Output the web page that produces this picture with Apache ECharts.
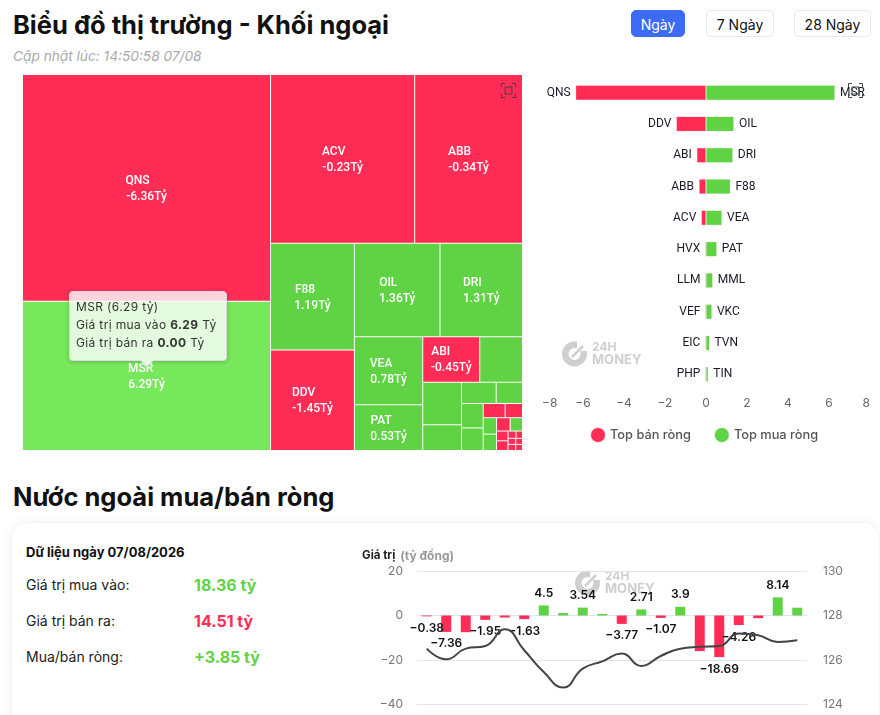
<!DOCTYPE html>
<html lang="vi">
<head>
<meta charset="utf-8">
<title>Khối ngoại</title>
<script src="https://cdn.jsdelivr.net/npm/echarts@6/dist/echarts.min.js"></script>
<style>
  html, body { margin: 0; padding: 0; background: #fff; overflow: hidden; width: 880px; height: 715px; font-family: Inter, sans-serif; color: #111; }
  .abs { position: absolute; white-space: nowrap; }
  h2 { margin: 0; font-size: 25.5px; font-weight: 700; line-height: 32px; }
  .updated { left: 13px; top: 48px; font-size: 13.7px; font-style: italic; color: #aaa; }
  .btn { top: 10px; height: 27px; line-height: 27px; text-align: center; font-size: 14px; border: 1px solid #e8e8e8; border-radius: 5px; box-sizing: border-box; }
  .btn.on { background: #3d6bf5; border-color: #3d6bf5; color: #fff; }
  .card { left: 12px; top: 523px; width: 867px; height: 260px; border-radius: 16px; box-shadow: 0 0 12px rgba(40, 60, 110, .09); background: #fff; }
  .row { left: 26px; font-size: 14px; color: #222; }
  .val { left: 194px; font-size: 16px; font-weight: 700; }
  .green { color: #5fd344; }
  .red { color: #ff2d55; }
  #treemap { position: absolute; left: 13px; top: 70px; width: 520px; height: 385px; }
  #topbars { position: absolute; left: 535px; top: 70px; width: 345px; height: 385px; }
  #netchart { position: absolute; left: 350px; top: 535px; width: 530px; height: 220px; }
</style>
</head>
<body>
<h2 class="abs" style="left:13px;top:9px">Biểu đồ thị trường - Khối ngoại</h2>
<div class="abs updated">Cập nhật lúc: 14:50:58 07/08</div>
<div class="abs btn on" style="left:631px;width:54px">Ngày</div>
<div class="abs btn" style="left:706px;width:68px">7 Ngày</div>
<div class="abs btn" style="left:794px;width:77px">28 Ngày</div>

<div id="treemap"></div>
<div id="topbars"></div>

<h2 class="abs" style="left:13px;top:481px">Nước ngoài mua/bán ròng</h2>
<div class="abs card"></div>
<div class="abs" style="left:26px;top:544px;font-size:13px;font-weight:700">Dữ liệu ngày 07/08/2026</div>
<div class="abs row" style="top:576px">Giá trị mua vào:</div>
<div class="abs val green" style="top:575px">18.36 tỷ</div>
<div class="abs row" style="top:612px">Giá trị bán ra:</div>
<div class="abs val red" style="top:611px">14.51 tỷ</div>
<div class="abs row" style="top:648px">Mua/bán ròng:</div>
<div class="abs val green" style="top:647px">+3.85 tỷ</div>
<div id="netchart"></div>

<script>
// màu chung
var RED = '#ff2d55';
var GREEN = '#5fd344';

// treemap: giá trị giao dịch (mua + bán) và mua/bán ròng
var treeNames = ['QNS', 'MSR', 'ACV', 'ABB', 'F88', 'DDV', 'OIL', 'DRI', 'VEA', 'PAT', 'ABI', 'MML', 'VKC', 'TVN', 'TIN', 'SGN', 'HAH', 'PVD', 'HVX', 'LLM', 'NTP', 'DPR', 'VEF', 'BSR', 'EIC', 'PHP', 'SIP', 'VGC', 'NBC', 'TNG', 'CMS', 'PDN'];
var treeTotal = [9.55, 6.29, 4.13, 3.09, 1.52, 1.43, 1.36, 1.31, 0.79, 0.53, 0.44, 0.33, 0.28, 0.17, 0.125, 0.095, 0.09, 0.083, 0.053, 0.042, 0.037, 0.037, 0.031, 0.028, 0.019, 0.019, 0.01, 0.008, 0.008, 0.008, 0.007, 0.007];
var treeNet = [-6.36, 6.29, -0.23, -0.34, 1.19, -1.45, 1.36, 1.31, 0.78, 0.53, -0.45, 0.33, 0.28, 0.17, 0.11, 0.1, 0.08, 0.08, -0.05, -0.04, 0.04, 0.04, -0.03, 0.03, -0.02, -0.02, -0.01, -0.01, -0.01, -0.01, -0.01, -0.01];
var treeLabelMin = 0.44;

// top mua/bán ròng
var sellNames = ['QNS', 'DDV', 'ABI', 'ABB', 'ACV', 'HVX', 'LLM', 'VEF', 'EIC', 'PHP'];
var sellValues = [-6.36, -1.45, -0.45, -0.34, -0.23, -0.03, -0.01, -0.01, -0.01, -0.01];
var buyNames = ['MSR', 'OIL', 'DRI', 'F88', 'VEA', 'PAT', 'MML', 'VKC', 'TVN', 'TIN'];
var buyValues = [6.29, 1.36, 1.31, 1.19, 0.78, 0.53, 0.33, 0.29, 0.17, 0.11];

// mua/bán ròng theo phiên và đường giá
var netValues = [-0.38, -7.36, -7.5, -1.95, -0.9, -1.63, 4.5, 1.1, 3.54, 0.7, -3.77, 2.71, -1.07, 3.9, -16, -18.69, -4.26, -1.2, 8.14, 3.5];
var netHiddenLabels = [2, 4, 7, 9, 14, 17, 19];
var priceValues = [126.51, 126.03, 126.51, 126.63, 127.38, 126.44, 125.46, 124.76, 125.61, 125.94, 126.29, 125.73, 126.18, 126.51, 126.59, 126.63, 127.19, 127.11, 126.81, 126.89];

var FULLSCREEN_ICON = 'path://M1 4V1H4M10 1H13V4M13 10V13H10M4 13H1V10M4 4H10V10H4Z';
var LABEL_FONT = '500 12px Roboto';

function minusSign(v) {
    return String(v).replace('-', '\u2212');
}

function fullscreenToolbox() {
    return {
        right: 0,
        top: -4,
        itemSize: 14,
        iconStyle: { color: 'none', borderColor: '#444', borderWidth: 1 },
        feature: {
            myFull: { show: true, title: '', icon: FULLSCREEN_ICON, onclick: function() {} }
        }
    };
}

// logo chìm 24H Money
function watermark(left, top) {
    return {
        type: 'group',
        left: left,
        top: top,
        silent: true,
        z: -1,
        children: [
            { type: 'ring', shape: { cx: 12.5, cy: 13, r: 12.5, r0: 6 }, style: { fill: '#cfcfcf' } },
            { type: 'rect', shape: { x: 15, y: 0, width: 11, height: 10 }, style: { fill: '#fff' } },
            { type: 'line', shape: { x1: 10, y1: 16, x2: 21, y2: 5 }, style: { stroke: '#cfcfcf', lineWidth: 2.5 } },
            { type: 'text', style: { x: 30, y: 0, text: '24H', fill: '#cfcfcf', font: 'bold 12px Inter' } },
            { type: 'text', style: { x: 30, y: 13, text: 'MONEY', fill: '#cfcfcf', font: 'bold 13px Inter' } }
        ]
    };
}

// hai dòng canh trái nhưng cả khối nằm giữa ô: bù dòng ngắn bằng khoảng trắng
var measureCtx = document.createElement('canvas').getContext('2d');
measureCtx.font = LABEL_FONT;
function treeLabel(i) {
    var netText = treeNet[i].toFixed(2) + 'Tỷ';
    var gap = measureCtx.measureText(netText).width - measureCtx.measureText(treeNames[i]).width;
    var pad = Math.max(0, Math.round(gap / measureCtx.measureText('\u00a0').width));
    return treeNames[i] + new Array(pad + 1).join('\u00a0') + '\n' + netText;
}

var treeChart = echarts.init(document.getElementById('treemap'));
treeChart.setOption({
    animation: false,
    toolbox: fullscreenToolbox(),
    tooltip: {
        show: true,
        transitionDuration: 0,
        backgroundColor: 'rgba(255,255,255,0.8)',
        borderColor: '#ddd',
        borderWidth: 1,
        padding: [6, 6],
        extraCssText: 'border-radius:4px;box-shadow:0 1px 4px rgba(0,0,0,.2);width:158px;height:70px;box-sizing:border-box;overflow:visible;letter-spacing:.35px;',
        textStyle: { color: '#333', fontFamily: 'Inter', fontSize: 12 },
        position: function() { return [56, 221]; },
        formatter: function(p) {
            var i = treeNames.indexOf(p.name);
            var net = treeNet[i];
            var buy = (treeTotal[i] + net) / 2;
            var sell = (treeTotal[i] - net) / 2;
            return '<div style="line-height:18px">' + p.name + ' (' + net.toFixed(2) + ' tỷ)<br>' +
                'Giá trị mua vào <b>' + buy.toFixed(2) + '</b> Tỷ<br>' +
                'Giá trị bán ra <b>' + sell.toFixed(2) + '</b> Tỷ</div>' +
                '<div style="position:absolute;left:72px;bottom:-5px;width:9px;height:9px;background:#e8fae2;transform:rotate(45deg);border-right:1px solid #ddd;border-bottom:1px solid #ddd"></div>';
        }
    },
    series: [{
        type: 'treemap',
        left: 10,
        top: 5,
        width: 499,
        height: 375,
        squareRatio: 1,
        roam: false,
        nodeClick: false,
        breadcrumb: { show: false },
        itemStyle: { gapWidth: 1, borderColor: '#fff', borderWidth: 0 },
        emphasis: { itemStyle: { color: '#77e75c' } },
        label: {
            show: true,
            position: 'inside',
            align: 'center',
            verticalAlign: 'middle',
            offset: [0, 1],
            color: '#fff',
            fontFamily: 'Roboto',
            fontWeight: 500,
            fontSize: 12,
            lineHeight: 16,
            overflow: 'none',
            formatter: function(p) {
                var i = treeNames.indexOf(p.name);
                return treeTotal[i] < treeLabelMin ? '' : treeLabel(i);
            }
        },
        data: treeNames.map(function(name, i) {
            return { name: name, value: treeTotal[i], itemStyle: { color: treeNet[i] < 0 ? RED : GREEN } };
        })
    }]
});
treeChart.dispatchAction({ type: 'highlight', seriesIndex: 0, name: 'MSR' });
treeChart.dispatchAction({ type: 'showTip', seriesIndex: 0, name: 'MSR' });

var barChart = echarts.init(document.getElementById('topbars'));
barChart.setOption({
    animation: false,
    toolbox: fullscreenToolbox(),
    graphic: [watermark(27, 271)],
    grid: { left: 7, top: 7, width: 328, height: 313 },
    legend: {
        bottom: 7,
        left: 50,
        icon: 'circle',
        itemWidth: 14,
        itemHeight: 14,
        itemGap: 23,
        textStyle: { color: '#555', fontFamily: 'Inter', fontWeight: 500, fontSize: 12.8 },
        data: ['Top bán ròng', 'Top mua ròng']
    },
    xAxis: {
        type: 'value',
        min: -8,
        max: 8,
        interval: 2,
        splitLine: { show: false },
        axisLine: { show: false },
        axisTick: { show: false },
        axisLabel: { color: '#666', fontFamily: 'Inter', fontSize: 12, margin: 7, alignMinLabel: 'left', alignMaxLabel: 'right', formatter: minusSign }
    },
    yAxis: { type: 'category', inverse: true, show: false, data: sellNames },
    series: [
        {
            name: 'Top bán ròng',
            type: 'bar',
            barWidth: 15,
            barGap: '-100%',
            itemStyle: { color: RED, borderColor: 'rgba(255,45,85,.15)', borderWidth: 1 },
            label: {
                show: true,
                position: 'left',
                distance: 5,
                color: '#1a1a2a',
                fontFamily: 'Roboto',
                fontSize: 12,
                formatter: function(p) { return sellNames[p.dataIndex]; }
            },
            data: sellValues
        },
        {
            name: 'Top mua ròng',
            type: 'bar',
            barWidth: 15,
            itemStyle: { color: GREEN, borderColor: 'rgba(95,211,68,.15)', borderWidth: 1 },
            label: {
                show: true,
                position: 'right',
                distance: 5,
                color: '#1a1a2a',
                fontFamily: 'Roboto',
                fontSize: 12,
                formatter: function(p) { return buyNames[p.dataIndex]; }
            },
            data: buyValues
        }
    ]
});

var netChart = echarts.init(document.getElementById('netchart'));
netChart.setOption({
    animation: false,
    title: {
        left: 7,
        top: 7,
        text: '{a|Giá trị} {b|(tỷ đồng)}',
        textStyle: {
            rich: {
                a: { color: '#222', fontFamily: 'Inter', fontWeight: 700, fontSize: 11.5 },
                b: { color: '#999', fontFamily: 'Inter', fontSize: 12 }
            }
        }
    },
    graphic: [watermark(225, 35)],
    grid: { left: 67, top: 36, width: 390, height: 133.5 },
    xAxis: {
        type: 'category',
        data: netValues.map(function(v, i) { return i + 1; }),
        axisLine: { lineStyle: { color: '#e0e6f1' } },
        axisTick: { show: false },
        axisLabel: { show: false }
    },
    yAxis: [
        {
            type: 'value',
            min: -40,
            max: 20,
            interval: 20,
            axisLabel: { color: '#777', fontFamily: 'Inter', fontSize: 12, margin: 14, formatter: minusSign },
            splitLine: { lineStyle: { color: '#e0e6f1' } }
        },
        {
            type: 'value',
            min: 124,
            max: 130,
            interval: 2,
            axisLabel: { color: '#777', fontFamily: 'Inter', fontSize: 12, margin: 16 },
            splitLine: { show: false }
        }
    ],
    series: [
        {
            type: 'bar',
            barWidth: 10,
            label: {
                show: true,
                position: 'outside',
                distance: 6,
                color: '#111',
                fontFamily: 'Inter',
                fontWeight: 600,
                fontSize: 12,
                formatter: function(p) {
                    return netHiddenLabels.indexOf(p.dataIndex) >= 0 ? '' : minusSign(p.value);
                }
            },
            data: netValues.map(function(v) {
                return { value: v, itemStyle: { color: v < 0 ? RED : GREEN } };
            })
        },
        {
            type: 'line',
            yAxisIndex: 1,
            smooth: true,
            symbol: 'none',
            lineStyle: { color: '#444', width: 2 },
            z: 5,
            data: priceValues
        }
    ]
});
</script>
</body>
</html>
